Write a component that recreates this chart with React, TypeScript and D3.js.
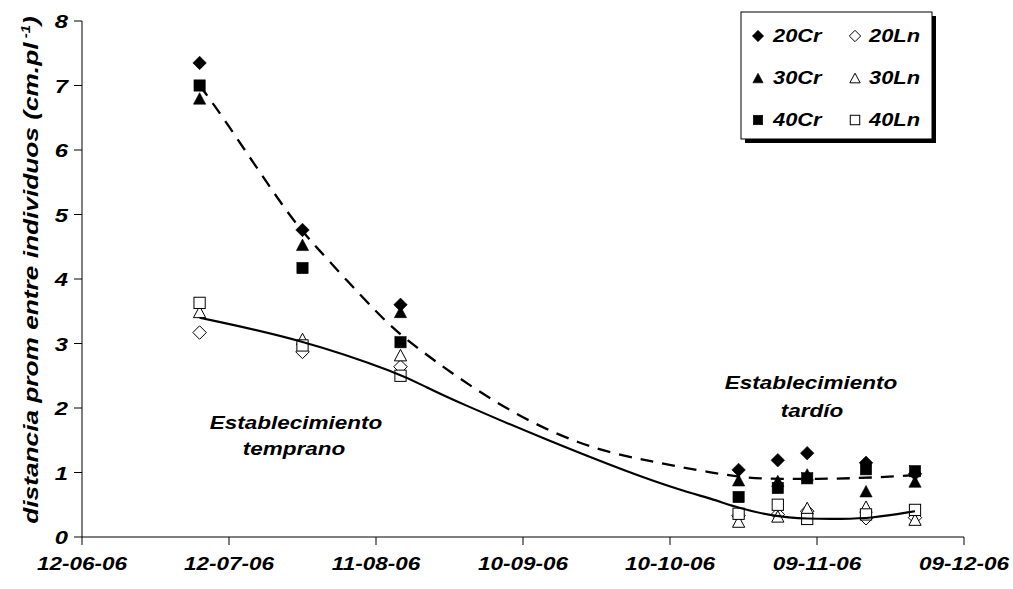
import React from "react";
import * as d3 from "d3";

// ---- data ----
const sampleDates = ["2006-07-06", "2006-07-27", "2006-08-16", "2006-10-24", "2006-11-01", "2006-11-07", "2006-11-19", "2006-11-29"];
const v20Cr = [7.35, 4.76, 3.6, 1.04, 1.19, 1.3, 1.15, 0.98];
const v30Cr = [6.8, 4.53, 3.49, 0.88, 0.87, 0.97, 0.71, 0.86];
const v40Cr = [7.0, 4.17, 3.02, 0.62, 0.76, 0.91, 1.05, 1.02];
const v20Ln = [3.17, 2.87, 2.64, 0.33, 0.35, 0.4, 0.29, 0.3];
const v30Ln = [3.49, 3.07, 2.82, 0.24, 0.32, 0.45, 0.47, 0.27];
const v40Ln = [3.63, 2.97, 2.5, 0.36, 0.5, 0.28, 0.35, 0.42];

// trend lines
const trendCrDates = ["2006-07-06", "2006-07-10", "2006-07-24", "2006-07-29", "2006-08-12", "2006-08-18", "2006-09-05", "2006-09-22", "2006-10-06", "2006-10-19", "2006-10-26", "2006-11-02", "2006-11-09", "2006-11-16", "2006-11-23", "2006-11-29"];
const trendCrValues = [7.0, 6.6, 5.0, 4.56, 3.4, 3.0, 2.02, 1.4, 1.17, 0.99, 0.91, 0.9, 0.9, 0.91, 0.93, 0.96];
const trendLnDates = ["2006-07-06", "2006-07-27", "2006-08-16", "2006-08-21", "2006-08-28", "2006-09-15", "2006-10-02", "2006-10-12", "2006-10-19", "2006-10-24", "2006-10-31", "2006-11-07", "2006-11-14", "2006-11-20", "2006-11-29"];
const trendLnValues = [3.4, 3.06, 2.53, 2.33, 2.08, 1.5, 0.99, 0.73, 0.58, 0.45, 0.32, 0.28, 0.28, 0.29, 0.4];

const xTickLabels = ["12-06-06", "12-07-06", "11-08-06", "10-09-06", "10-10-06", "09-11-06", "09-12-06"];
const yTickValues = [0, 1, 2, 3, 4, 5, 6, 7, 8];

const seriesNames = ["20Cr", "30Cr", "40Cr", "20Ln", "30Ln", "40Ln"];
const seriesValues = [v20Cr, v30Cr, v40Cr, v20Ln, v30Ln, v40Ln];
const seriesShapes = ["diamond", "triangle", "square", "diamond", "triangle", "square"];
const seriesFilled = [true, true, true, false, false, false];

const legendOrder = [
  ["20Cr", "20Ln"],
  ["30Cr", "30Ln"],
  ["40Cr", "40Ln"],
];

const FONT = "'Liberation Sans', Arial, Helvetica, sans-serif";
const STRETCH = 1.25;

const parseISO = d3.timeParse("%Y-%m-%d");
const parseTick = d3.timeParse("%d-%m-%y");

function SText({ x, y, size, anchor = "start", rotate = 0, sx = STRETCH, children }: any) {
  return (
    <text
      transform={`translate(${x},${y}) rotate(${rotate}) scale(${sx},1)`}
      textAnchor={anchor}
      fontFamily={FONT}
      fontWeight={700}
      fontStyle="italic"
      fontSize={size}
      fill="#000"
    >
      {children}
    </text>
  );
}

function Marker({ shape, filled, x, y, s }: { shape: string; filled: boolean; x: number; y: number; s: number }) {
  const fill = filled ? "#000" : "#fff";
  const stroke = "#000";
  const sw = filled ? 0.6 : 1;
  if (shape === "diamond") {
    const r = s * 0.54;
    return <path d={`M${x},${y - r}L${x + r},${y}L${x},${y + r}L${x - r},${y}Z`} fill={fill} stroke={stroke} strokeWidth={sw} />;
  }
  if (shape === "triangle") {
    const h = s * 0.92;
    const w = s * 0.98;
    return <path d={`M${x},${y - h / 2}L${x + w / 2},${y + h / 2}L${x - w / 2},${y + h / 2}Z`} fill={fill} stroke={stroke} strokeWidth={sw} />;
  }
  const a = s * 0.9;
  return <rect x={x - a / 2} y={y - a / 2} width={a} height={a} fill={fill} stroke={stroke} strokeWidth={sw} />;
}

export default function App() {
  const W = 1013;
  const H = 589;
  const left = 82;
  const right = 964;
  const top = 21;
  const bottom = 537;

  const x = d3
    .scaleTime()
    .domain([parseTick(xTickLabels[0])!, parseTick(xTickLabels[xTickLabels.length - 1])!])
    .range([left, right]);
  const y = d3.scaleLinear().domain([0, 8]).range([bottom, top]);

  const lineGen = d3
    .line<[Date, number]>()
    .x((d) => x(d[0]))
    .y((d) => y(d[1]))
    .curve(d3.curveBasis);

  const crPts: [Date, number][] = trendCrDates.map((d, i) => [parseISO(d)!, trendCrValues[i]]);
  const lnPts: [Date, number][] = trendLnDates.map((d, i) => [parseISO(d)!, trendLnValues[i]]);

  const legX = 741;
  const legY = 12;
  const legW = 191;
  const legH = 127;
  const rowY = [36, 78, 120];
  const colMarkX = [758, 855];
  const colTextX = [773, 869];

  return (
    <svg width={W} height={H} style={{ position: "absolute", left: 0, top: 0, background: "#fff" }}>
      <rect x={0} y={0} width={W} height={H} fill="#fff" />
      {/* y axis */}
      <line x1={left} x2={left} y1={top} y2={bottom} stroke="#000" strokeWidth={1} />
      {yTickValues.map((v) => (
        <g key={"yt" + v}>
          <line x1={left - 8} x2={left} y1={y(v)} y2={y(v)} stroke="#000" strokeWidth={1} />
          <SText x={68} y={y(v) + 7} size={19} anchor="end">
            {v}
          </SText>
        </g>
      ))}
      {/* x axis */}
      <line x1={left} x2={right} y1={bottom} y2={bottom} stroke="#000" strokeWidth={1} />
      {xTickLabels.map((t) => {
        const xx = x(parseTick(t)!);
        return (
          <g key={"xt" + t}>
            <line x1={xx} x2={xx} y1={bottom} y2={bottom + 8} stroke="#000" strokeWidth={1} />
            <SText x={xx} y={570} size={18} anchor="middle">
              {t}
            </SText>
          </g>
        );
      })}
      {/* y title */}
      <SText x={38} y={270} size={21} anchor="middle" rotate={-90}>
        distancia prom entre individuos (cm.pl
        <tspan fontSize={12} dy={-8}> -1</tspan>
        <tspan dy={8}>)</tspan>
      </SText>

      {/* markers */}
      {seriesValues.map((vals, si) =>
        vals.map((v, i) => (
          <Marker
            key={seriesNames[si] + i}
            shape={seriesShapes[si]}
            filled={seriesFilled[si]}
            x={x(parseISO(sampleDates[i])!)}
            y={y(v)}
            s={12.5}
          />
        ))
      )}

      {/* trend lines */}
      <path d={lineGen(crPts) || ""} fill="none" stroke="#000" strokeWidth={2.3} strokeDasharray="13,9" />
      <path d={lineGen(lnPts) || ""} fill="none" stroke="#000" strokeWidth={2.1} />

      {/* annotations */}
      <SText x={296} y={429} size={18} anchor="middle">
        Establecimiento
      </SText>
      <SText x={294} y={455} size={18} anchor="middle">
        temprano
      </SText>
      <SText x={811} y={389} size={18} anchor="middle">
        Establecimiento
      </SText>
      <SText x={812} y={417} size={18} anchor="middle">
        tardío
      </SText>

      {/* legend */}
      <rect x={legX + 4} y={legY + 4} width={legW} height={legH} fill="#000" />
      <rect x={legX} y={legY} width={legW} height={legH} fill="#fff" stroke="#000" strokeWidth={1} />
      {legendOrder.map((row, ri) =>
        row.map((name, ci) => {
          const si = seriesNames.indexOf(name);
          return (
            <g key={"lg" + name}>
              <Marker shape={seriesShapes[si]} filled={seriesFilled[si]} x={colMarkX[ci]} y={rowY[ri]} s={10.5} />
              <SText x={colTextX[ci]} y={rowY[ri] + 6} size={17.5}>
                {name}
              </SText>
            </g>
          );
        })
      )}
    </svg>
  );
}
